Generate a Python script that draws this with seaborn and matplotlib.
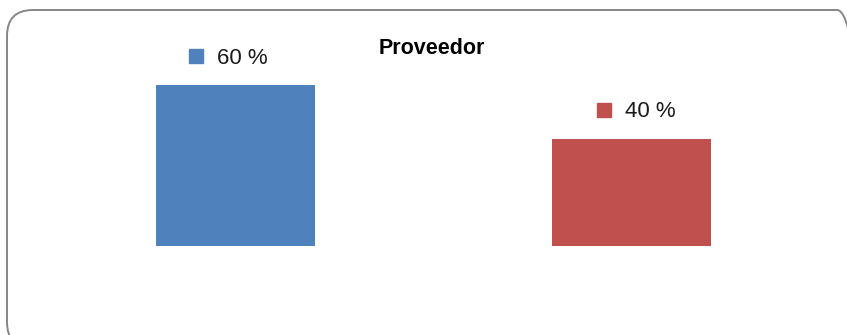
import matplotlib
matplotlib.use("Agg")
import matplotlib.pyplot as plt
import matplotlib.transforms as mtransforms
from matplotlib.patches import FancyBboxPatch
import seaborn as sns
import pandas as pd

# ---- data ----
categories = ["Proveedor A", "Proveedor B"]
values = [60, 40]
labels = ["60 %", "40 %"]
colors = ["#4F81BD", "#C0504D"]
title = "Proveedor"

sns.set_theme(style="white")
plt.rcParams['font.family'] = ['Liberation Sans', 'DejaVu Sans']

W, H = 847, 335
fig = plt.figure(figsize=(W / 100, H / 100), dpi=100)
fig.patch.set_facecolor("white")

# rounded chart border (partly cut off at right and bottom like the reference)
border = FancyBboxPatch((7 / 100, -13 / 100), 856 / 100, 338 / 100,
                        boxstyle="round,pad=0,rounding_size=0.26",
                        transform=fig.dpi_scale_trans, facecolor="none",
                        edgecolor="#868686", linewidth=1.4, clip_on=False, zorder=-1)
fig.patches.append(border)

ax = fig.add_axes([37.5 / W, (H - 246) / H, 792 / W, 216 / H])
ax.set_facecolor("none")

df = pd.DataFrame({"cat": categories, "val": values})
sns.barplot(data=df, x="cat", y="val", hue="cat", palette=colors,
            width=0.4, legend=False, ax=ax, saturation=1, linewidth=0)

ax.set_xlim(-0.5, 1.5)
ax.set_ylim(0, 80.5)
ax.axis("off")

# data labels with legend keys
label_dx = [-40, -28]
for i, (v, lab, col) in enumerate(zip(values, labels, colors)):
    tr = mtransforms.offset_copy(ax.transData, fig=fig, x=label_dx[i], y=29, units='dots')
    ax.plot([i], [v], marker='s', markersize=10.5, color=col, transform=tr,
            clip_on=False, linestyle='none')
    tr2 = mtransforms.offset_copy(ax.transData, fig=fig, x=label_dx[i] + 21, y=27, units='dots')
    ax.text(i, v, lab, transform=tr2, ha='left', va='center', fontsize=16,
            color="#1a1a1a", clip_on=False)

fig.text(432 / W, 1 - 49 / H, title, ha='center', va='center', fontsize=15.5,
         fontweight='bold', color="#000000")

fig.savefig("out.png", dpi=100, facecolor="white")
